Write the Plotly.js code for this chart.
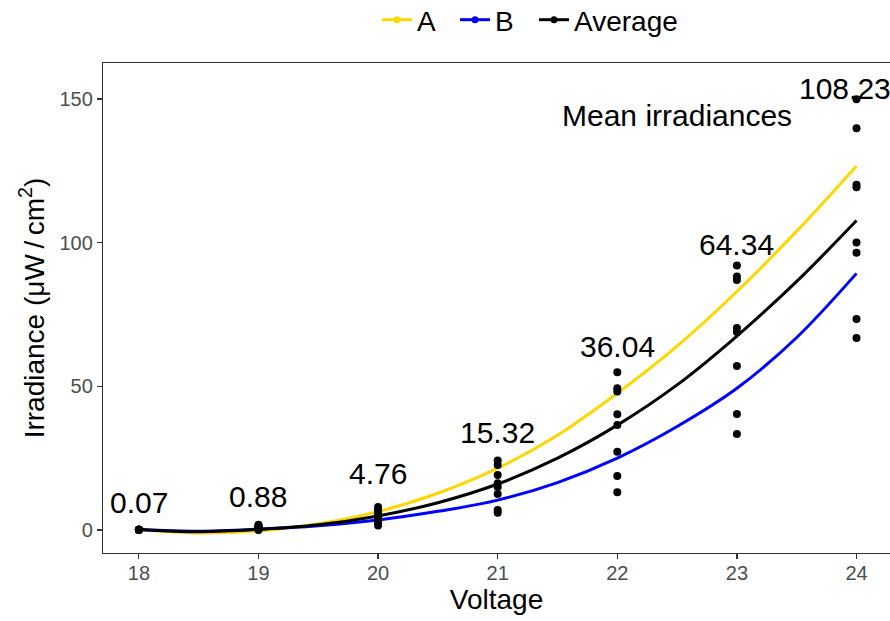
<!DOCTYPE html>
<html>
<head>
<meta charset="utf-8">
<script src="https://cdn.plot.ly/plotly-3.0.1.min.js"></script>
<style>html,body{margin:0;padding:0;background:#fff;}#chart{width:890px;height:621px;}</style>
</head>
<body>
<div id="chart"></div>
<script>
// Voltages
const voltages = [18, 19, 20, 21, 22, 23, 24];

// Individual irradiance measurements per voltage (µW/cm²)
const obs18 = [0.10, 0.05, 0.08, 0.06, 0.07, 0.10, 0.05, 0.05];
const obs19 = [1.8, 1.5, 1.2, 1.0, 0.8, 0.5, 0.2, 0.04];
const obs20 = [8.0, 7.0, 6.0, 5.0, 4.5, 3.5, 2.5, 1.6];
const obs21 = [24.2, 22.6, 19.1, 16.3, 15.0, 12.5, 7.0, 6.0];
const obs22 = [54.9, 49.3, 48.2, 40.3, 36.5, 27.2, 18.8, 13.1];
const obs23 = [92.0, 88.2, 87.0, 70.3, 68.9, 57.1, 40.4, 33.4];
const obs24 = [149.9, 139.8, 120.1, 119.3, 100.0, 96.5, 73.4, 66.8];

// Mean labels and their heights
const meanLabels = ["0.07", "0.88", "4.76", "15.32", "36.04", "64.34", "108.23"];
const meanLabelY = [9.7, 11.5, 19.8, 34.1, 64.0, 99.2, 153.8];

// Fitted curves, read at half-volt steps
const curveX = [18, 18.5, 19, 19.5, 20, 20.5, 21, 21.5, 22, 22.5, 23, 23.5, 24];
const curveA = [0.2, -1.0, -0.3, 2.2, 6.4, 12.8, 21.5, 33.0, 47.6, 64.0, 83.0, 104.0, 126.7];
const curveB = [0.2, -0.4, 0.3, 1.5, 3.5, 6.5, 10.4, 16.5, 25.0, 36.0, 49.3, 67.0, 89.3];
const curveAvg = [0.2, -0.6, 0.2, 1.8, 4.9, 9.5, 16.0, 25.0, 36.5, 50.5, 67.5, 86.5, 107.7];

const seriesNames = ["A", "B", "Average"];
const seriesColors = ["#FFD700", "#0000FF", "#000000"];

const obsAll = [obs18, obs19, obs20, obs21, obs22, obs23, obs24];
const ptsX = [], ptsY = [];
obsAll.forEach((arr, i) => arr.forEach(v => { ptsX.push(voltages[i]); ptsY.push(v); }));

const FONT = "Liberation Sans, Arial, sans-serif";
const legendIds = ["legend", "legend2", "legend3"];
const legendX = [377, 455, 534]; // pixel left edges of the legend entries
const traces = [];
[curveA, curveB, curveAvg].forEach((c, i) => {
  traces.push({x: curveX, y: c, mode: "lines", line: {color: seriesColors[i], width: 3, shape: "spline", smoothing: 1},
    showlegend: false, hoverinfo: "skip"});
});
traces.push({x: ptsX, y: ptsY, mode: "markers", marker: {color: "#000", size: 8}, showlegend: false});
seriesNames.forEach((n, i) => {
  traces.push({x: [null], y: [null], name: n, mode: "lines+markers", legend: legendIds[i], showlegend: true,
    line: {color: seriesColors[i], width: 3}, marker: {color: seriesColors[i], size: 7}});
});

const annotations = meanLabels.map((t, i) => ({
  x: voltages[i], y: meanLabelY[i], text: t, showarrow: false,
  xanchor: "center", yanchor: "middle", xshift: (i === meanLabels.length - 1 ? -12 : 0),
  font: {family: FONT, size: 30, color: "#000"}
}));
annotations.push({x: 22.5, y: 144.4, text: "Mean irradiances", showarrow: false,
  xanchor: "center", yanchor: "middle", font: {family: FONT, size: 30, color: "#000"}});

const layout = {
  width: 890, height: 621,
  margin: {l: 103, r: 0, t: 63, b: 68},
  paper_bgcolor: "#fff", plot_bgcolor: "#fff",
  font: {family: FONT},
  showlegend: true,
  xaxis: {range: [17.7, 24.28], tickvals: voltages, ticktext: voltages.map(String),
    showgrid: false, zeroline: false, showline: true, mirror: true, linecolor: "#333", linewidth: 1.2,
    ticks: "outside", ticklen: 5, tickcolor: "#333", tickwidth: 1.2, ticklabelstandoff: -3,
    tickfont: {family: FONT, size: 20, color: "#4D4D4D"},
    title: {text: "Voltage", font: {family: FONT, size: 28, color: "#000"}, standoff: 6}},
  yaxis: {range: [-8, 162.5], tickvals: [0, 50, 100, 150],
    showgrid: false, zeroline: false, showline: true, mirror: false, linecolor: "#333", linewidth: 1.2,
    ticks: "outside", ticklen: 5, tickcolor: "#333", tickwidth: 1.2,
    tickfont: {family: FONT, size: 20, color: "#4D4D4D"},
    title: {text: "Irradiance (μW\u2009/\u2009cm<sup>2</sup>)", font: {family: FONT, size: 28, color: "#000"}, standoff: 6}},
  annotations: annotations
};
legendIds.forEach((id, i) => {
  layout[id] = {orientation: "h", x: legendX[i] / 890, xref: "container", xanchor: "left",
    y: 1 - 20 / 621, yref: "container", yanchor: "middle", bgcolor: "rgba(0,0,0,0)",
    font: {family: FONT, size: 28, color: "#000"}};
});
Plotly.newPlot("chart", traces, layout, {displayModeBar: false, staticPlot: true});
</script>
</body>
</html>
